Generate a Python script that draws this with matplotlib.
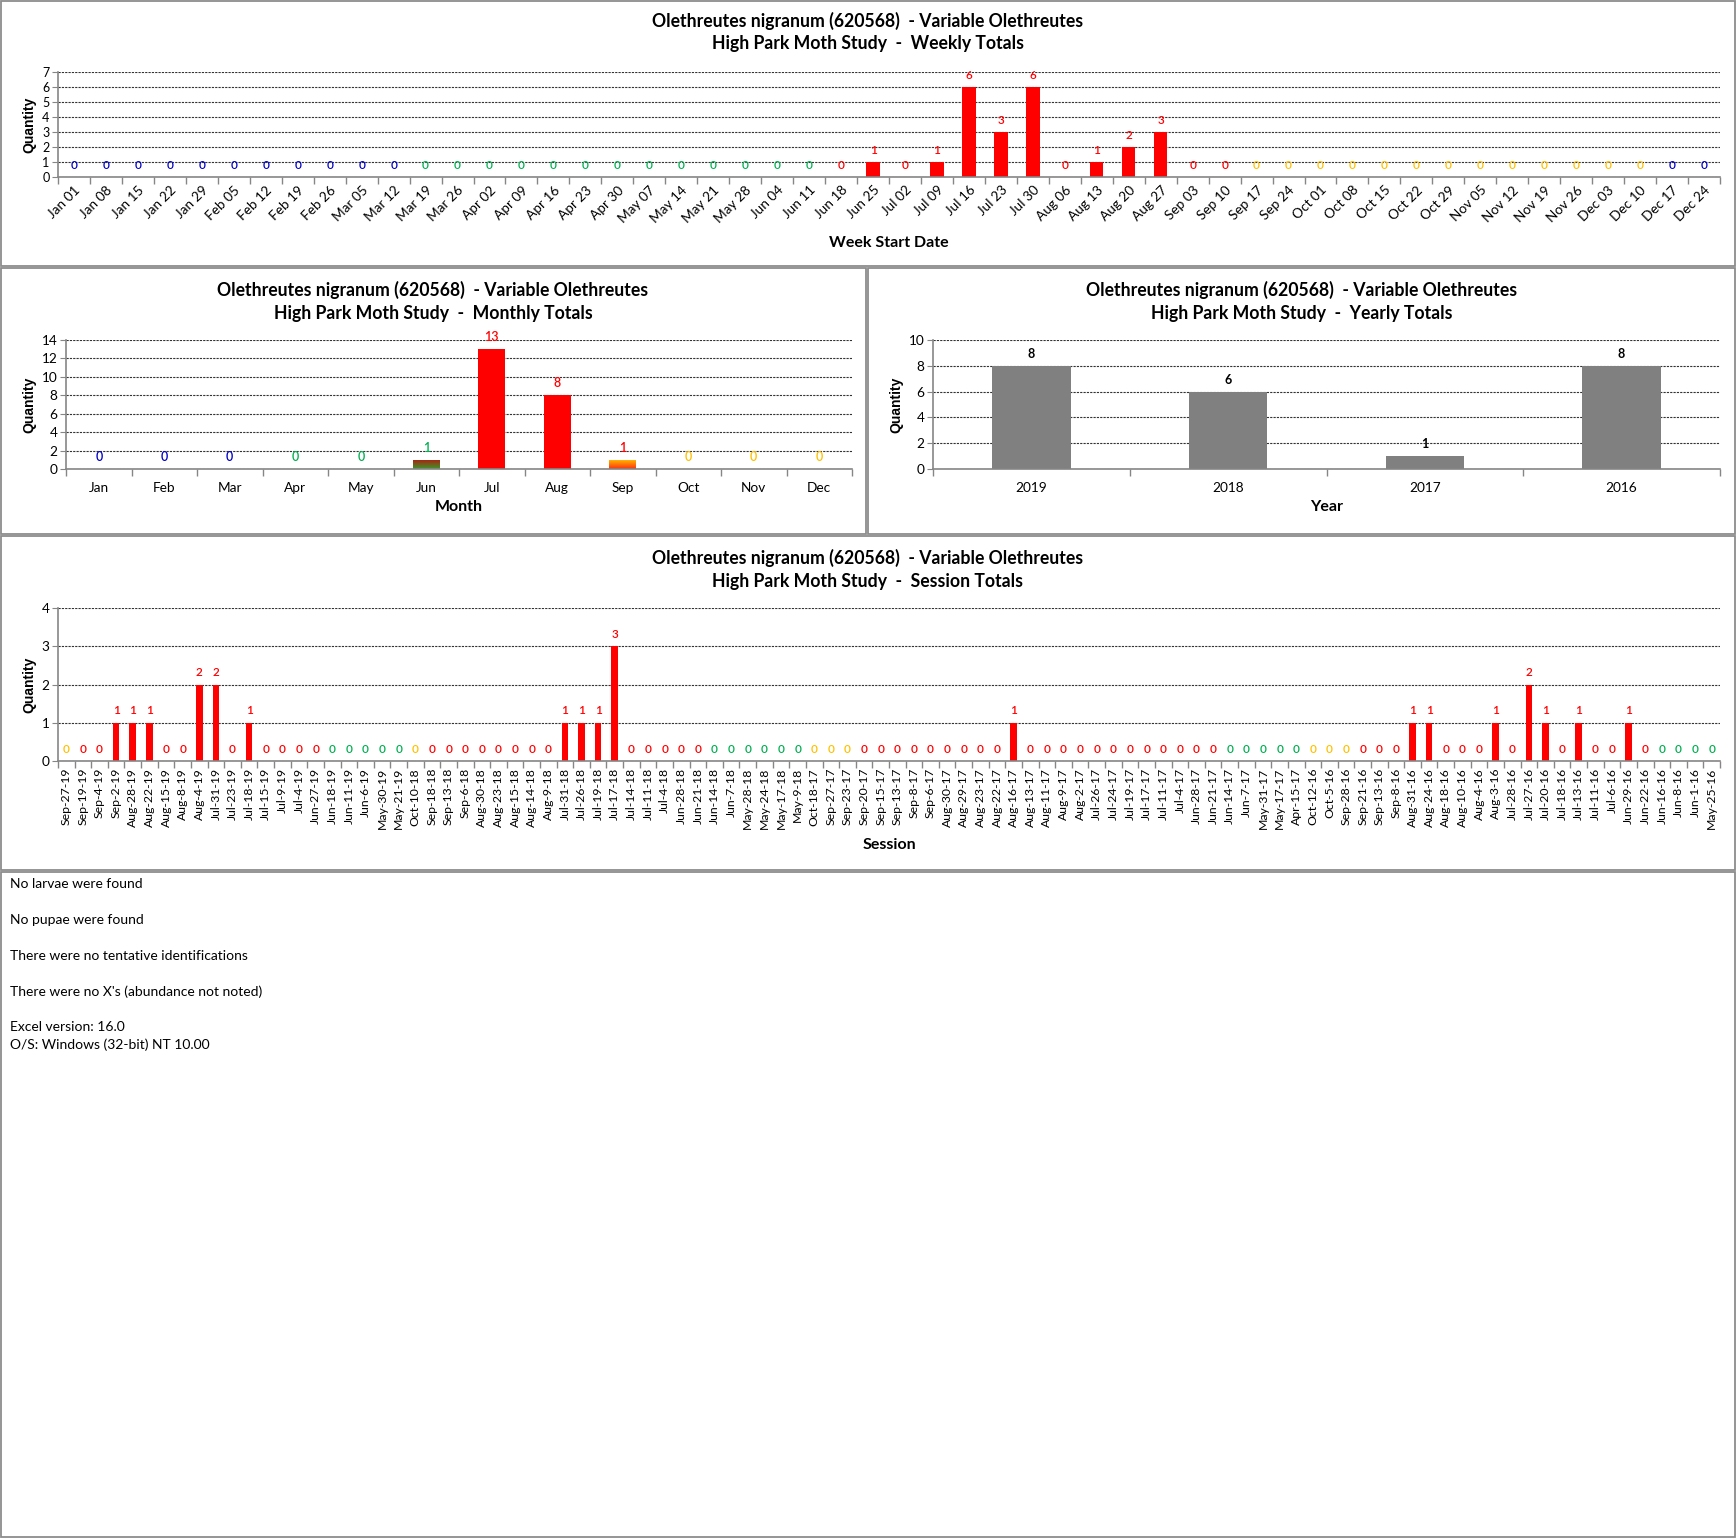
import numpy as np
import matplotlib
matplotlib.use("Agg")
import matplotlib.pyplot as plt
from matplotlib.patches import Rectangle
from matplotlib.colors import LinearSegmentedColormap

# ---- data ----
week_labels = ["Jan 01", "Jan 08", "Jan 15", "Jan 22", "Jan 29", "Feb 05", "Feb 12", "Feb 19", "Feb 26",
               "Mar 05", "Mar 12", "Mar 19", "Mar 26", "Apr 02", "Apr 09", "Apr 16", "Apr 23", "Apr 30",
               "May 07", "May 14", "May 21", "May 28", "Jun 04", "Jun 11", "Jun 18", "Jun 25", "Jul 02",
               "Jul 09", "Jul 16", "Jul 23", "Jul 30", "Aug 06", "Aug 13", "Aug 20", "Aug 27", "Sep 03",
               "Sep 10", "Sep 17", "Sep 24", "Oct 01", "Oct 08", "Oct 15", "Oct 22", "Oct 29", "Nov 05",
               "Nov 12", "Nov 19", "Nov 26", "Dec 03", "Dec 10", "Dec 17", "Dec 24"]
week_values = [0, 0, 0, 0, 0, 0, 0, 0, 0, 0, 0, 0, 0, 0, 0, 0, 0, 0, 0, 0, 0, 0, 0, 0,
               0, 1, 0, 1, 6, 3, 6, 0, 1, 2, 3, 0, 0,
               0, 0, 0, 0, 0, 0, 0, 0, 0, 0, 0, 0, 0, 0, 0]
week_codes = list("bbbbbbbbbbb" + "ggggggggggggg" + "rrrrrrrrrrrrr" + "yyyyyyyyyyyyy" + "bb")

month_labels = ["Jan", "Feb", "Mar", "Apr", "May", "Jun", "Jul", "Aug", "Sep", "Oct", "Nov", "Dec"]
month_values = [0, 0, 0, 0, 0, 1, 13, 8, 1, 0, 0, 0]
month_codes = list("bbbgggrrryyy")

year_labels = ["2019", "2018", "2017", "2016"]
year_values = [8, 6, 1, 8]

session_labels = ["Sep-27-19", "Sep-19-19", "Sep-4-19", "Sep-2-19", "Aug-28-19", "Aug-22-19", "Aug-15-19",
                  "Aug-8-19", "Aug-4-19", "Jul-31-19", "Jul-23-19", "Jul-18-19", "Jul-15-19", "Jul-9-19",
                  "Jul-4-19", "Jun-27-19", "Jun-18-19", "Jun-11-19", "Jun-6-19", "May-30-19", "May-21-19",
                  "Oct-10-18", "Sep-18-18", "Sep-13-18", "Sep-6-18", "Aug-30-18", "Aug-23-18", "Aug-15-18",
                  "Aug-14-18", "Aug-9-18", "Jul-31-18", "Jul-26-18", "Jul-19-18", "Jul-17-18", "Jul-14-18",
                  "Jul-11-18", "Jul-4-18", "Jun-28-18", "Jun-21-18", "Jun-14-18", "Jun-7-18", "May-28-18",
                  "May-24-18", "May-17-18", "May-9-18", "Oct-18-17", "Sep-27-17", "Sep-23-17", "Sep-20-17",
                  "Sep-15-17", "Sep-13-17", "Sep-8-17", "Sep-6-17", "Aug-30-17", "Aug-29-17", "Aug-23-17",
                  "Aug-22-17", "Aug-16-17", "Aug-13-17", "Aug-11-17", "Aug-9-17", "Aug-2-17", "Jul-26-17",
                  "Jul-24-17", "Jul-19-17", "Jul-17-17", "Jul-11-17", "Jul-4-17", "Jun-28-17", "Jun-21-17",
                  "Jun-14-17", "Jun-7-17", "May-31-17", "May-17-17", "Apr-15-17", "Oct-12-16", "Oct-5-16",
                  "Sep-28-16", "Sep-21-16", "Sep-13-16", "Sep-8-16", "Aug-31-16", "Aug-24-16", "Aug-18-16",
                  "Aug-10-16", "Aug-4-16", "Aug-3-16", "Jul-28-16", "Jul-27-16", "Jul-20-16", "Jul-18-16",
                  "Jul-13-16", "Jul-11-16", "Jul-6-16", "Jun-29-16", "Jun-22-16", "Jun-16-16", "Jun-8-16",
                  "Jun-1-16", "May-25-16"]
session_values = [0, 0, 0, 1, 1, 1, 0, 0, 2, 2, 0, 1, 0, 0, 0, 0, 0, 0, 0, 0,
                  0, 0, 0, 0, 0, 0, 0, 0, 0, 0, 1, 1, 1, 3, 0, 0, 0, 0, 0, 0,
                  0, 0, 0, 0, 0, 0, 0, 0, 0, 0, 0, 0, 0, 0, 0, 0, 0, 1, 0, 0,
                  0, 0, 0, 0, 0, 0, 0, 0, 0, 0, 0, 0, 0, 0, 0, 0, 0, 0, 0, 0,
                  0, 1, 1, 0, 0, 0, 1, 0, 2, 1, 0, 1, 0, 0, 1, 0, 0, 0, 0, 0]
session_codes = list("yrrrrrrrrrrrrrrrggggg" + "y" + "rrrrrrrrrrrrrrrrr" + "gggggg" + "yyy"
                     + "rrrrrrrrrrrrrrrrrrrrrr" + "ggggg" + "yyy" + "rrrrrrrrrrrrrrrrrr" + "gggg")

notes = ["No larvae were found", "No pupae were found", "There were no tentative identifications",
         "There were no X's (abundance not noted)"]
version_lines = ["Excel version: 16.0", "O/S: Windows (32-bit) NT 10.00"]

species = "Olethreutes nigranum (620568)  - Variable Olethreutes"

# ---- style ----
W, H = 1736, 1538
label_colors = {"b": "#0000CC", "g": "#00B050", "r": "#FF0000", "y": "#FFC000"}
FONT = ["Lato", "DejaVu Sans"]
plt.rcParams["font.family"] = FONT
GRID = "#333333"
AX = "#868686"

fig = plt.figure(figsize=(W / 100, H / 100), dpi=100)
fig.patch.set_facecolor("white")


def px_axes(x0, y0, x1, y1):
    return fig.add_axes([x0 / W, 1 - y1 / H, (x1 - x0) / W, (y1 - y0) / H])


def panel(x0, y0, x1, y1):
    fig.add_artist(Rectangle((x0 / W, 1 - y1 / H), (x1 - x0) / W, (y1 - y0) / H,
                             transform=fig.transFigure, fill=False, edgecolor="#8c8c8c", lw=1.3))


def titles(cx, y, subtitle):
    fig.text(cx / W, 1 - y / H, species, ha="center", va="center", fontsize=12.7, fontweight="bold")
    fig.text(cx / W, 1 - (y + 23) / H, "High Park Moth Study  -  " + subtitle, ha="center",
             va="center", fontsize=12.7, fontweight="bold")


def style_axes(ax, n, ymax, ystep, tick_fs):
    ax.set_xlim(-0.5, n - 0.5)
    ax.set_ylim(0, ymax)
    ax.set_yticks(np.arange(0, ymax + ystep / 2, ystep))
    ax.yaxis.grid(True, color=GRID, linestyle=(0, (2, 1)), linewidth=0.8)
    ax.set_axisbelow(True)
    for s in ["top", "right"]:
        ax.spines[s].set_visible(False)
    for s in ["left", "bottom"]:
        ax.spines[s].set_color(AX)
        ax.spines[s].set_linewidth(1.2)
    ax.set_xticks(np.arange(-0.5, n, 1), minor=True)
    ax.tick_params(axis="x", which="major", length=0)
    ax.tick_params(axis="x", which="minor", length=5, color=AX, width=1)
    ax.tick_params(axis="y", length=4, color=AX, labelsize=tick_fs, pad=2)
    ax.set_ylabel("Quantity", fontfamily="Liberation Sans", fontweight="bold", fontsize=10, labelpad=4)


def value_labels(ax, values, codes, fs=8.5):
    for i, v in enumerate(values):
        c = label_colors[codes[i]] if v == 0 else ("#FF0000" if codes[i] != "g" else label_colors["g"])
        ax.annotate(str(v), (i, v), xytext=(0, 8.6), textcoords="offset points",
                    ha="center", va="center", fontsize=fs, fontweight="semibold", color=c)


# ---- panels ----
panel(1, 1, 1735, 266)
panel(1, 268, 866, 534)
panel(868, 268, 1735, 534)
panel(1, 536, 1735, 870)
panel(1, 872, 1735, 1537)

# weekly
ax1 = px_axes(58, 72, 1720, 177)
x = np.arange(len(week_labels))
ax1.bar(x, week_values, width=0.42, color="#FF0000", zorder=2)
style_axes(ax1, len(week_labels), 7, 1, 9)
ax1.set_xticks(x)
ax1.set_xticklabels(week_labels, rotation=45, ha="right", rotation_mode="anchor", fontsize=9.8)
ax1.tick_params(axis="x", pad=5)
value_labels(ax1, week_values, week_codes)
ax1.set_xlabel("Week Start Date", fontweight="bold", fontsize=11.5, labelpad=8)
titles(868, 21, "Weekly Totals")

# monthly
ax2 = px_axes(66, 340, 852, 469)
x = np.arange(len(month_labels))
bars = ax2.bar(x, month_values, width=0.41, color="#FF0000", zorder=2)
style_axes(ax2, len(month_labels), 14, 2, 9.8)
ax2.set_xticks(x)
ax2.set_xticklabels(month_labels, fontsize=9.8)
ax2.tick_params(axis="x", pad=9)
# gradient fills for Jun and Sep
grads = {5: ["#3a9a2a", "#b01a10"], 8: ["#ff3010", "#ffc000"]}
for i, cols in grads.items():
    p = bars[i]
    p.set_facecolor("none")
    cm = LinearSegmentedColormap.from_list("g%d" % i, cols)
    im = ax2.imshow(np.linspace(0, 1, 50).reshape(-1, 1), cmap=cm, origin="lower", aspect="auto",
                    extent=(p.get_x(), p.get_x() + p.get_width(), 0, p.get_height()), zorder=2)
    im.set_clip_path(p)
ax2.set_aspect("auto")
ax2.set_xlim(-0.5, len(month_labels) - 0.5)
ax2.set_ylim(0, 14)
value_labels(ax2, month_values, month_codes, fs=9)
ax2.set_xlabel("Month", fontweight="bold", fontsize=11.5, labelpad=5)
titles(433, 290, "Monthly Totals")

# yearly
ax3 = px_axes(933, 340, 1720, 469)
x = np.arange(len(year_labels))
ax3.bar(x, year_values, width=0.4, color="#808080", zorder=2)
style_axes(ax3, len(year_labels), 10, 2, 9.8)
ax3.set_xticks(x)
ax3.set_xticklabels(year_labels, fontsize=9.8)
ax3.tick_params(axis="x", pad=9)
for i, v in enumerate(year_values):
    ax3.annotate(str(v), (i, v), xytext=(0, 8.6), textcoords="offset points",
                 ha="center", va="center", fontsize=9, fontweight="bold", color="black")
ax3.set_xlabel("Year", fontweight="bold", fontsize=11.5, labelpad=5)
titles(1302, 290, "Yearly Totals")

# sessions
ax4 = px_axes(58, 608, 1720, 761)
x = np.arange(len(session_labels))
ax4.bar(x, session_values, width=0.4, color="#FF0000", zorder=2)
style_axes(ax4, len(session_labels), 4, 1, 9.8)
ax4.set_xticks(x)
ax4.set_xticklabels(session_labels, rotation=90, fontsize=8.8)
ax4.tick_params(axis="x", pad=5)
value_labels(ax4, session_values, session_codes)
ax4.set_xlabel("Session", fontweight="bold", fontsize=11.5, labelpad=6)
titles(868, 558, "Session Totals")

# notes
for k, line in enumerate(notes):
    fig.text(10 / W, 1 - (884 + 36 * k) / H, line, ha="left", va="center", fontsize=10)
for k, line in enumerate(version_lines):
    fig.text(10 / W, 1 - (1027 + 18 * k) / H, line, ha="left", va="center", fontsize=10)

fig.savefig("out.png", dpi=100, facecolor="white")
